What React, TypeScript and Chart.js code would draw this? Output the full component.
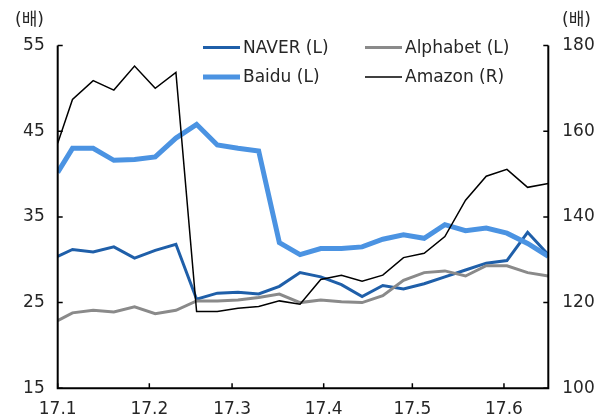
import React, { useEffect, useRef } from 'react';
import { Chart, registerables } from 'chart.js';

Chart.register(...registerables);

// Weekly observation dates
const dates = [
  '2017-01-01', '2017-01-06', '2017-01-13', '2017-01-20', '2017-01-27',
  '2017-02-03', '2017-02-10', '2017-02-17', '2017-02-24',
  '2017-03-03', '2017-03-10', '2017-03-17', '2017-03-24', '2017-03-31',
  '2017-04-07', '2017-04-14', '2017-04-21', '2017-04-28',
  '2017-05-05', '2017-05-12', '2017-05-19', '2017-05-26',
  '2017-06-02', '2017-06-09', '2017-06-16',
];

// Left axis (배)
const naver = [30.4, 31.2, 30.9, 31.5, 30.2, 31.1, 31.8, 25.4, 26.1, 26.2, 26.0, 26.9, 28.5, 28.0, 27.1, 25.7, 27.0, 26.6, 27.2, 28.0, 28.8, 29.6, 29.9, 33.2, 30.6];
const alphabet = [22.9, 23.8, 24.1, 23.9, 24.5, 23.7, 24.1, 25.2, 25.2, 25.3, 25.6, 26.0, 25.0, 25.3, 25.1, 25.0, 25.8, 27.6, 28.5, 28.7, 28.1, 29.3, 29.3, 28.5, 28.1];
const baidu = [40.2, 43.0, 43.0, 41.6, 41.7, 42.0, 44.2, 45.8, 43.4, 43.0, 42.7, 32.0, 30.6, 31.3, 31.3, 31.5, 32.4, 32.9, 32.5, 34.1, 33.4, 33.7, 33.1, 31.9, 30.4];
// Right axis (배)
const amazon = [157.2, 167.4, 171.8, 169.6, 175.2, 170.0, 173.7, 117.9, 117.9, 118.7, 119.1, 120.4, 119.6, 125.4, 126.4, 125.0, 126.4, 130.5, 131.5, 135.4, 143.9, 149.5, 151.1, 146.9, 147.8];

// X tick labels (month starts)
const monthStartDates = ['2017-01-01', '2017-02-01', '2017-03-01', '2017-04-01', '2017-05-01', '2017-06-01'];
const monthLabels = ['17.1', '17.2', '17.3', '17.4', '17.5', '17.6'];
const xEndDate = '2017-06-16';

const leftTicks = [15, 25, 35, 45, 55];
const rightTicks = [100, 120, 140, 160, 180];

const seriesNames = ['NAVER (L)', 'Alphabet (L)', 'Baidu (L)', 'Amazon (R)'];

const FONT = "'DejaVu Sans', 'Noto Sans CJK KR', sans-serif";
const TEXT = '#262626';
const C_NAVER = '#1f5fa9';
const C_BAIDU = '#4b93e2';
const C_ALPHA = '#8a8a8a';
const C_AMZN = '#000000';

const dayOf = (s: string) => {
  const [y, m, d] = s.split('-').map(Number);
  return (Date.UTC(y, m - 1, d) - Date.UTC(2017, 0, 1)) / 86400000;
};

const toPts = (vals: number[]) => vals.map((v, i) => ({ x: dayOf(dates[i]), y: v }));

export default function App() {
  const ref = useRef<HTMLCanvasElement | null>(null);

  useEffect(() => {
    document.body.style.margin = '0';
    const canvas = ref.current;
    if (!canvas) return;

    const monthDays = monthStartDates.map(dayOf);

    const legendItems = [
      { name: seriesNames[0], color: C_NAVER, w: 3, x: 203, y: 47.5 },
      { name: seriesNames[1], color: C_ALPHA, w: 3, x: 365, y: 47.5 },
      { name: seriesNames[2], color: C_BAIDU, w: 5, x: 203, y: 77 },
      { name: seriesNames[3], color: C_AMZN, w: 1.5, x: 365, y: 77 },
    ];

    const decor = {
      id: 'decor',
      afterDatasetsDraw(chart: any) {
        const { ctx, chartArea } = chart;
        const { left, right, top, bottom } = chartArea;
        const yL = chart.scales.y;
        const yR = chart.scales.y2;
        const xs = chart.scales.x;
        ctx.save();
        ctx.strokeStyle = '#000';
        ctx.lineWidth = 2;
        ctx.beginPath();
        ctx.moveTo(left, top);
        ctx.lineTo(left, bottom + 1);
        ctx.moveTo(left - 1, bottom);
        ctx.lineTo(right + 1, bottom);
        ctx.moveTo(right, bottom + 1);
        ctx.lineTo(right, top);
        ctx.stroke();
        ctx.lineWidth = 1.5;
        ctx.beginPath();
        leftTicks.forEach((v) => {
          const p = yL.getPixelForValue(v);
          ctx.moveTo(left, p);
          ctx.lineTo(left + 5, p);
        });
        rightTicks.forEach((v) => {
          const p = yR.getPixelForValue(v);
          ctx.moveTo(right, p);
          ctx.lineTo(right - 5, p);
        });
        monthDays.forEach((v) => {
          const p = xs.getPixelForValue(v);
          ctx.moveTo(p, bottom);
          ctx.lineTo(p, bottom - 5);
        });
        ctx.stroke();
        ctx.restore();
      },
      afterDraw(chart: any) {
        const { ctx } = chart;
        ctx.save();
        ctx.font = `17px ${FONT}`;
        ctx.fillStyle = TEXT;
        ctx.textBaseline = 'middle';
        legendItems.forEach((it) => {
          ctx.strokeStyle = it.color;
          ctx.lineWidth = it.w;
          ctx.beginPath();
          ctx.moveTo(it.x, it.y);
          ctx.lineTo(it.x + 37, it.y);
          ctx.stroke();
          ctx.textAlign = 'left';
          ctx.fillText(it.name, it.x + 40, it.y + 1);
        });
        ctx.textAlign = 'left';
        ctx.fillText('(배)', 15, 21);
        ctx.fillText('(배)', 562, 21);
        ctx.restore();
      },
    };

    const tickFont = { family: FONT, size: 17 };

    const chart = new Chart(canvas, {
      type: 'line',
      data: {
        datasets: [
          { label: seriesNames[0], data: toPts(naver), borderColor: C_NAVER, borderWidth: 3, yAxisID: 'y', order: 3 },
          { label: seriesNames[1], data: toPts(alphabet), borderColor: C_ALPHA, borderWidth: 3, yAxisID: 'y', order: 2 },
          { label: seriesNames[2], data: toPts(baidu), borderColor: C_BAIDU, borderWidth: 5, yAxisID: 'y', order: 1 },
          { label: seriesNames[3], data: toPts(amazon), borderColor: C_AMZN, borderWidth: 1.5, yAxisID: 'y2', order: 0 },
        ].map((d) => ({ ...d, pointRadius: 0, tension: 0, fill: false, borderJoinStyle: 'miter' as const })),
      },
      options: {
        responsive: false,
        animation: false,
        events: [],
        layout: { padding: { top: 45.5, left: 0, right: 0, bottom: 0 } },
        plugins: { legend: { display: false }, tooltip: { enabled: false } },
        scales: {
          x: {
            type: 'linear',
            min: 0,
            max: dayOf(xEndDate),
            afterBuildTicks: (s: any) => {
              s.ticks = monthDays.map((v) => ({ value: v }));
            },
            afterFit: (s: any) => {
              s.height = 29.7;
            },
            ticks: {
              autoSkip: false,
              maxRotation: 0,
              padding: 11,
              font: tickFont,
              color: TEXT,
              callback: (_v: any, i: number) => monthLabels[i],
            },
            grid: { display: false, drawTicks: false, tickLength: 0 },
            border: { display: false },
          },
          y: {
            position: 'left',
            min: 15,
            max: 55,
            afterBuildTicks: (s: any) => {
              s.ticks = leftTicks.map((v) => ({ value: v }));
            },
            afterFit: (s: any) => {
              s.width = 57.7;
            },
            ticks: { padding: 13, font: tickFont, color: TEXT },
            grid: { display: false, drawTicks: false, tickLength: 0 },
            border: { display: false },
          },
          y2: {
            position: 'right',
            min: 100,
            max: 180,
            afterBuildTicks: (s: any) => {
              s.ticks = rightTicks.map((v) => ({ value: v }));
            },
            afterFit: (s: any) => {
              s.width = 56.7;
            },
            ticks: { padding: 14, font: tickFont, color: TEXT },
            grid: { display: false, drawTicks: false, tickLength: 0 },
            border: { display: false },
          },
        },
      } as any,
      plugins: [decor],
    });

    return () => chart.destroy();
  }, []);

  return (
    <div style={{ width: 605, height: 418, position: 'relative' }}>
      <canvas ref={ref} width={605} height={418} style={{ display: 'block', width: 605, height: 418 }} />
    </div>
  );
}
